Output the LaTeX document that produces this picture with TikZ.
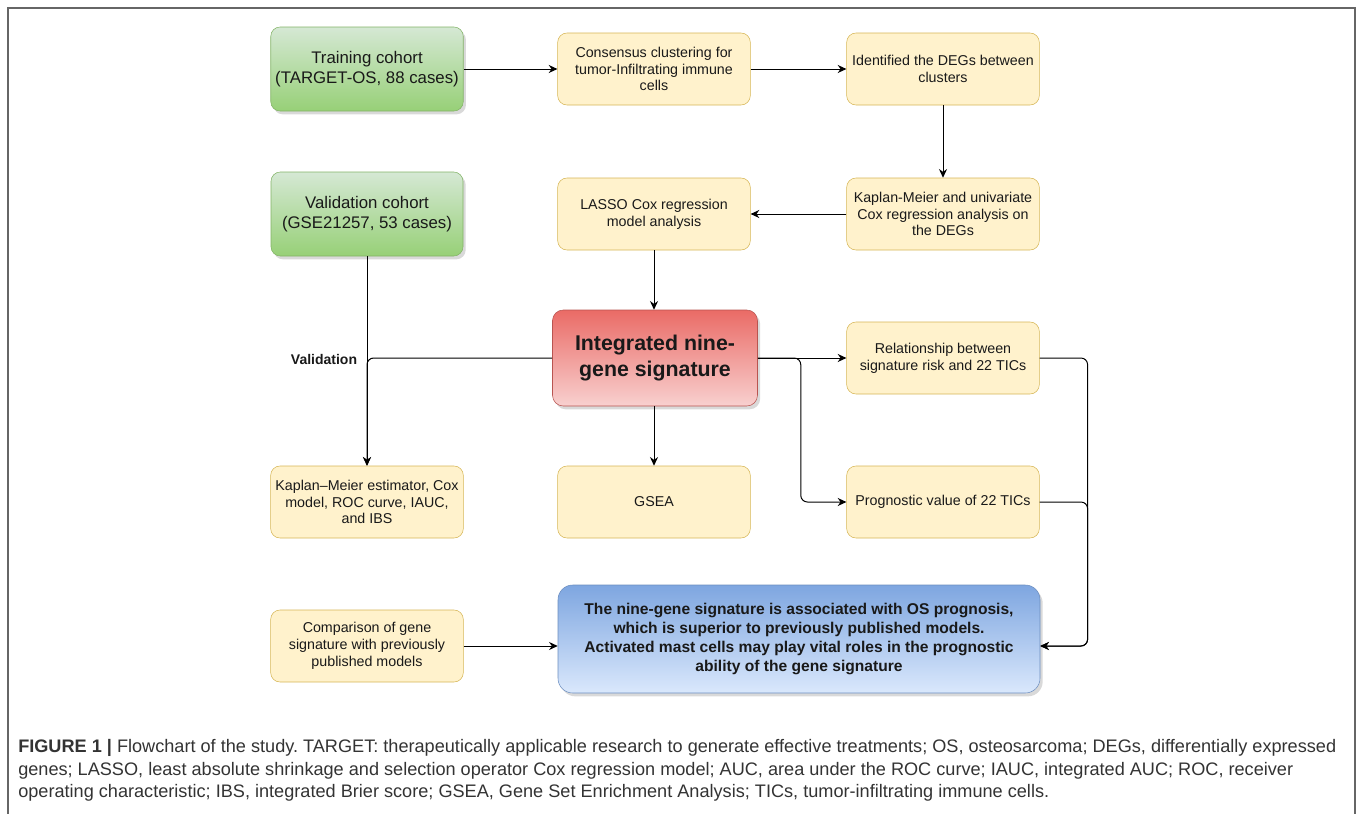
\documentclass[tikz,border=0pt]{standalone}
\usepackage{fontspec}
\setmainfont{Liberation Sans}
\usetikzlibrary{arrows.meta,shadows,positioning}
\definecolor{cohorttop}{HTML}{D5E8D4}
\definecolor{cohortbot}{HTML}{97D077}
\definecolor{cohortline}{HTML}{82B366}
\definecolor{stepfill}{HTML}{FFF2CC}
\definecolor{stepline}{HTML}{D6B656}
\definecolor{sigtop}{HTML}{EA6B66}
\definecolor{sigbot}{HTML}{F8D0CF}
\definecolor{sigline}{HTML}{B85450}
\definecolor{endtop}{HTML}{7EA6E0}
\definecolor{endbot}{HTML}{DAE8FC}
\definecolor{endline}{HTML}{6C8EBF}

\begin{document}
\begin{tikzpicture}[x=0.75pt,y=-0.75pt,
  every node/.style={align=center,text=black!90},
  shad/.style={drop shadow={shadow xshift=2pt,shadow yshift=-2.5pt,opacity=0.3}},
  cohort/.style={draw=cohortline,rounded corners=7pt,top color=cohorttop,bottom color=cohortbot,
    minimum width=144pt,minimum height=63pt,font=\fontsize{12.6}{15}\selectfont,shad},
  stepbox/.style={draw=stepline,fill=stepfill,rounded corners=7pt,
    minimum width=144.5pt,minimum height=54pt,font=\fontsize{10.7}{12.6}\selectfont},
  sigbox/.style={draw=sigline,rounded corners=8pt,top color=sigtop,bottom color=sigbot,
    minimum width=153.75pt,minimum height=72pt,font=\fontsize{16}{19}\selectfont\bfseries,shad},
  endbox/.style={draw=endline,rounded corners=11pt,top color=endtop,bottom color=endbot,
    minimum width=361.5pt,minimum height=81pt,font=\fontsize{11.7}{14.2}\selectfont\bfseries,shad},
  arr/.style={-{Stealth[length=6.5pt,width=6pt]},line width=0.75pt},
  link/.style={arr,rounded corners=5pt}]

\useasboundingbox (0,0) rectangle (1357,814);
\draw[black!60,line width=1.1pt] (8,830) -- (8,8) -- (1355,8) -- (1355,830);

% cohorts
\node[cohort] (train) at (367,69) {Training cohort\\(TARGET-OS, 88 cases)};
\node[cohort] (valid) at (367,214) {Validation cohort\\(GSE21257, 53 cases)};

% steps
\node[stepbox] (cons) at (654,69) {Consensus clustering for\\tumor-Infiltrating immune\\cells};
\node[stepbox] (degs) at (943,69) {Identified the DEGs between\\clusters};
\node[stepbox] (kmuni) at (943,214) {Kaplan-Meier and univariate\\Cox regression analysis on\\the DEGs};
\node[stepbox] (lasso) at (654,214) {LASSO Cox regression\\model analysis};
\node[sigbox] (sig) at (655,358) {Integrated nine-\\gene signature};
\node[stepbox] (rel) at (943,358) {Relationship between\\signature risk and 22 TICs};
\node[stepbox] (prog) at (943,502) {Prognostic value of 22 TICs};
\node[stepbox] (gsea) at (654,502) {GSEA};
\node[stepbox] (kmest) at (367,502) {Kaplan--Meier estimator, Cox\\model, ROC curve, IAUC,\\and IBS};
\node[stepbox] (comp) at (367,646) {Comparison of gene\\signature with previously\\published models};
\node[endbox] (final) at (799,639) {The nine-gene signature is associated with OS prognosis,\\which is superior to previously published models.\\Activated mast cells may play vital roles in the prognostic\\ability of the gene signature};

% connectors
\draw[arr] (train) -- (cons);
\draw[arr] (cons) -- (degs);
\draw[arr] (degs) -- (kmuni);
\draw[arr] (kmuni) -- (lasso);
\draw[arr] (lasso.south) -- (lasso.south |- sig.north);
\draw[arr] (sig.south -| gsea) -- (gsea);
\draw[arr] (valid) -- (kmest);
\draw[link] (sig.west) -| (kmest.north);
\node[font=\fontsize{10.5}{12}\selectfont\bfseries] (vlab) at (324,359) {Validation};
\draw[arr] (sig.east) -- (rel.west);
\draw[link] (sig.east) -- ++(43,0) |- (prog.west);
\draw[link] (rel.east) -- ++(48,0) |- (final.east |- comp.east);
\draw[link] (prog.east) -- ++(48,0) |- (final.east |- comp.east);
\draw[arr] (comp) -- (comp -| final.west);

% caption
\node[anchor=north west,align=left,inner sep=0pt,text=black!80,
  font=\fontsize{13.6}{17}\selectfont\frenchspacing] (cap) at (18,739)
  {\textbf{FIGURE 1 |} Flowchart of the study. TARGET: therapeutically applicable research to generate effective treatments; OS, osteosarcoma; DEGs, differentially expressed\\
   genes; LASSO, least absolute shrinkage and selection operator Cox regression model; AUC, area under the ROC curve; IAUC, integrated AUC; ROC, receiver\\
   operating characteristic; IBS, integrated Brier score; GSEA, Gene Set Enrichment Analysis; TICs, tumor-infiltrating immune cells.};
\end{tikzpicture}
\end{document}
